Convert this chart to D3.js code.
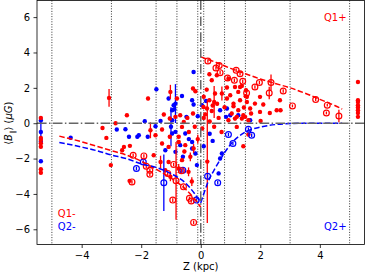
<!DOCTYPE html>
<html>
<head>
<meta charset="utf-8">
<script src="https://cdn.jsdelivr.net/npm/d3@7"></script>
<style>
	body { margin: 0; background: #fff; }
	svg { display: block; font-family: "DejaVu Sans", sans-serif; }
</style>
</head>
<body>
<script>
// tick labels and reference lines
var xTicks = [-4, -2, 0, 2, 4];
var yTicks = [-6, -4, -2, 0, 2, 4, 6];
var vLines = [-5, -3, -1.5, -0.8, -0.1, 0.1, 0.8, 1.5, 3, 5];

// points: [Z (kpc), <B> (uG), error]
var redFilled = [
	[-5.37, 0.3, 0.08], [-5.37, -0.83, 0.08], [-5.37, -0.95, 0.08], [-5.37, -1.14, 0.08], [-5.37, -1.33, 0.08],
	[-5.37, -2.6, 0.08], [-5.37, -2.8, 0.08],
	[-3.08, 1.43, 0.5], [-3.3, -0.27, 0.08], [-3.17, -0.83, 0.08], [-2.86, 0.0, 0.08], [-2.48, 0.45, 0.08],
	[-3.02, -2.37, 0.08], [-2.64, -1.53, 0.08], [-2.38, -1.28, 0.08], [-2.39, -3.26, 0.08], [-2.58, -1.34, 0.08],
	[-1.77, 1.4, 0.1], [-1.24, 0.49, 0.1], [-1.69, -0.4, 0.45], [-1.02, 1.77, 0.4], [-0.8, 1.4, 0.1],
	[-0.18, 1.81, 0.1], [-0.69, 0.45, 0.1], [-0.85, 0.36, 0.1], [-0.57, 0.07, 0.1], [0.21, 0.83, 0.1],
	[-1.04, 0.27, 0.1], [-1.3, -0.36, 0.1], [-1.04, -0.77, 0.1], [-0.63, -0.21, 0.1], [-0.26, 0.55, 0.1],
	[-1.3, -1.15, 0.1], [-1.08, -1.34, 0.1], [-0.74, -1.06, 0.1], [-0.52, -1.24, 0.1], [-0.24, -1.43, 0.25],
	[-0.63, -2.09, 0.1], [-0.35, -1.9, 0.25], [-0.41, -2.75, 0.25], [-1.08, -2.19, 0.1], [-1.19, -2.66, 0.1],
	[-1.02, -3.03, 0.25], [-0.74, -2.56, 0.25], [-1.52, -0.68, 0.1], [-1.58, -1.81, 0.1], [-1.35, -2.19, 0.35],
	[-0.74, -0.77, 0.1], [-0.4, -0.5, 0.1], [-0.1, -0.9, 0.25], [0.05, -0.3, 0.1], [0.22, -2.17, 3.47],
	[-0.2, -0.2, 0.1], [-0.45, 0.3, 0.1], [0.1, 0.3, 0.1], [-0.3, -3.3, 0.25], [-0.55, -1.6, 0.1],
	[-0.26, 1.96, 0.1], [0.29, 2.77, 0.1], [0.37, 2.43, 0.1], [0.54, 2.71, 0.1], [0.88, 2.02, 0.1],
	[0.71, 1.68, 0.4], [1.32, 2.05, 0.1], [0.29, 1.3, 0.1], [0.48, 1.68, 0.1], [0.09, 0.92, 0.1],
	[0.37, 0.69, 0.1], [1.1, 0.96, 0.1], [1.21, 0.36, 0.1], [1.43, 0.45, 0.1], [0.45, 1.2, 0.9],
	[0.6, 0.3, 0.1], [0.45, -0.2, 0.1], [0.7, -0.5, 0.1], [0.3, 0.1, 0.1], [0.15, 0.5, 0.1],
	[0.8, 0.9, 0.1], [0.55, 1.1, 0.1], [0.2, 1.9, 0.1], [0.1, 1.5, 0.1], [0.4, 1.0, 0.1],
	[0.93, 2.52, 0.1], [1.15, 2.05, 0.1], [1.38, 2.11, 0.1], [1.26, 1.77, 0.1], [0.99, 1.58, 0.1],
	[0.88, 1.4, 0.1], [1.32, 1.3, 0.1], [1.1, 1.11, 0.1], [1.55, 1.49, 0.1], [1.99, 1.49, 0.1],
	[2.1, 1.06, 0.1], [2.55, 0.73, 0.1], [1.99, 0.64, 0.1], [1.66, 0.83, 0.1], [1.26, 0.73, 0.1],
	[1.04, 0.55, 0.1], [1.49, 0.36, 0.1], [1.6, 0.17, 0.1], [1.15, 0.26, 0.1], [0.93, 0.17, 0.1],
	[1.21, -0.21, 0.1], [1.6, -0.64, 0.1], [1.55, 1.2, 0.1], [1.82, 1.11, 0.1], [2.66, 1.3, 0.1],
	[2.68, 0.73, 0.1], [2.01, 0.13, 0.1], [1.69, 0.55, 0.1], [1.38, 0.27, 0.1], [1.52, 1.86, 0.1],
	[1.51, 1.53, 0.1], [1.45, 0.89, 0.1], [2.32, 0.58, 0.1], [1.43, -1.3, 0.08],
	[5.28, 2.33, 0.08], [5.28, 1.3, 0.08], [5.28, 1.2, 0.08], [5.28, 1.02, 0.08], [5.28, 0.89, 0.08],
	[5.28, 0.73, 0.08], [5.28, 0.58, 0.08], [5.28, 0.36, 0.08]
];

var blueFilled = [
	[-5.37, 0.15, 0.08], [-5.37, -0.5, 0.9], [-5.37, -1.05, 0.15], [-5.37, -2.15, 0.08],
	[-4.37, -0.82, 0.08], [-2.82, -0.36, 0.08], [-1.49, 1.92, 0.1], [-1.88, 0.11, 0.1], [-2.53, -0.34, 0.1],
	[-2.13, -0.77, 0.1], [-1.78, -0.77, 0.1], [-0.24, 2.9, 0.1], [-1.08, 1.4, 0.1], [-0.63, 1.54, 0.1],
	[-0.29, 1.3, 0.1], [-0.24, 1.06, 0.1], [-0.91, 1.02, 0.1], [-0.89, 0.79, 0.1], [-0.48, 0.36, 0.1],
	[-0.96, 0.17, 0.1], [-0.85, 1.11, 1.1], [-0.96, 0.73, 0.1], [-1.35, 0.13, 0.1], [-1.52, -0.17, 0.1],
	[-0.85, -0.49, 0.1], [-0.52, -0.58, 0.1], [-1.19, -1.53, 0.1], [-0.85, -1.62, 0.1], [-0.29, -1.06, 0.1],
	[-0.13, -2.37, 0.1], [-0.18, -1.71, 0.1], [0.6, -2.84, 0.1], [0.71, -1.71, 0.1], [-0.69, -1.24, 0.1],
	[-2.41, -0.77, 0.1], [-2.08, -0.68, 0.1], [-0.96, -0.58, 0.1], [-0.29, -1.43, 0.1], [-1.0, -0.2, 1.1],
	[-0.1, 0.4, 0.1], [-0.4, -0.9, 0.1], [0.3, -0.6, 0.1], [0.1, -1.3, 0.1], [0.4, -1.0, 0.1],
	[-0.6, -1.9, 0.1], [0.65, -2.0, 0.1], [0.88, 0.83, 0.1], [1.26, 0.45, 0.1], [1.66, 0.17, 0.1],
	[0.99, 0.45, 0.1], [0.18, 1.26, 0.1], [0.04, 1.02, 0.1], [0.65, 0.73, 0.1], [0.85, 0.36, 0.1]
];

var redOpen = [
	[0.24, 3.52, 0.1], [0.62, 3.26, 0.1], [0.51, 3.12, 0.1], [0.65, 2.86, 0.1], [1.19, 2.99, 0.1],
	[0.9, 2.56, 0.1], [1.13, 2.43, 0.1], [1.41, 2.37, 0.1], [1.54, 1.71, 0.1], [1.32, 2.8, 0.1],
	[1.82, 2.05, 0.1], [1.97, 2.3, 0.1], [2.36, 2.3, 0.45], [2.3, 1.71, 0.35], [2.77, 1.82, 0.1],
	[3.08, 0.98, 0.08], [3.86, 1.34, 0.08], [4.25, 1.02, 0.08], [4.22, 0.58, 0.08], [4.64, 0.41, 0.35],
	[-2.27, -1.81, 0.1], [-2.31, -3.32, 0.1], [-1.91, -1.85, 0.1], [-1.83, -2.43, 0.1], [-1.71, -2.66, 0.1],
	[-1.71, -2.88, 0.1], [-0.91, -2.33, 0.1], [-0.65, -2.69, 0.1], [-0.94, -4.35, 0.1], [-0.38, -4.25, 0.1],
	[-0.32, -4.4, 0.1], [-0.24, -5.61, 0.1], [-1.11, -2.84, 0.1], [-0.83, -3.26, 2.2], [-0.58, -3.6, 0.1]
];

var blueOpen = [
	[-2.16, -2.56, 0.1], [-1.93, -2.19, 0.1], [-1.24, -3.37, 1.6], [-0.6, -2.66, 0.1], [-0.15, -4.35, 0.1],
	[0.23, -3.0, 0.1], [0.57, -3.37, 0.1], [1.08, -1.15, 0.1], [0.93, -0.64, 0.1], [1.6, -0.34, 0.1],
	[1.71, -0.68, 0.1]
];

// model curves: [Z, <B>]
var q1Plus = [[0.0, 3.75], [0.5, 3.45], [1.0, 3.1], [1.5, 2.8], [2.0, 2.5], [2.5, 2.25], [3.0, 2.0],
	[3.5, 1.7], [4.0, 1.35], [4.5, 1.0], [4.75, 0.8]];
var q1Minus = [[-4.75, -0.73], [-4.0, -1.05], [-3.5, -1.3], [-3.0, -1.55], [-2.5, -1.8], [-2.0, -2.15],
	[-1.5, -2.6], [-1.0, -3.1], [-0.5, -3.75], [-0.2, -4.3], [0.0, -4.75]];
var q2Minus = [[-4.75, -1.09], [-4.0, -1.35], [-3.5, -1.55], [-3.0, -1.8], [-2.5, -2.0], [-2.0, -2.3],
	[-1.5, -2.5], [-1.0, -2.85], [-0.5, -3.4], [-0.2, -4.0], [0.0, -4.5]];
var q2Plus = [[0.0, -4.5], [0.1, -4.0], [0.25, -3.3], [0.5, -2.5], [0.75, -1.8], [1.0, -1.2],
	[1.5, -0.5], [2.0, -0.22], [2.5, -0.08], [3.0, -0.02], [3.5, 0.0], [4.75, 0.0]];

var width = 365, height = 275;
var margin = { top: 0.5, right: 0.5, bottom: 30.5, left: 37 };

var svg = d3.select('body').append('svg')
	.attr('width', width)
	.attr('height', height);

var x = d3.scaleLinear()
	.domain([-5.5, 5.5])
	.range([margin.left, width - margin.right]);

var y = d3.scaleLinear()
	.domain([-6.86, 6.94])
	.range([height - margin.bottom, margin.top]);

var plot = svg.append('g');

// dotted boundaries
plot.selectAll('.vline').data(vLines).enter().append('line')
	.attr('x1', function(d) { return x(d); })
	.attr('x2', function(d) { return x(d); })
	.attr('y1', y.range()[1])
	.attr('y2', y.range()[0])
	.attr('stroke', '#000')
	.attr('stroke-width', 0.8)
	.attr('stroke-dasharray', '1,1.6');

function drawSeries(data, color, open) {
	var g = plot.append('g');
	g.selectAll('line').data(data).enter().append('line')
		.attr('x1', function(d) { return x(d[0]); })
		.attr('x2', function(d) { return x(d[0]); })
		.attr('y1', function(d) { return y(d[1] - d[2]); })
		.attr('y2', function(d) { return y(d[1] + d[2]); })
		.attr('stroke', color)
		.attr('stroke-width', 1.3);
	g.selectAll('circle').data(data).enter().append('circle')
		.attr('cx', function(d) { return x(d[0]); })
		.attr('cy', function(d) { return y(d[1]); })
		.attr('r', open ? 2.9 : 2.2)
		.attr('fill', open ? 'none' : color)
		.attr('stroke', open ? color : 'none')
		.attr('stroke-width', 1.2);
}

drawSeries(blueFilled, 'blue', false);
drawSeries(redFilled, 'red', false);
drawSeries(blueOpen, 'blue', true);
drawSeries(redOpen, 'red', true);

var line = d3.line()
	.x(function(d) { return x(d[0]); })
	.y(function(d) { return y(d[1]); })
	.curve(d3.curveMonotoneX);

[[q1Plus, 'red'], [q1Minus, 'red'], [q2Minus, 'blue'], [q2Plus, 'blue']].forEach(function(c) {
	plot.append('path')
		.datum(c[0])
		.attr('d', line)
		.attr('fill', 'none')
		.attr('stroke', c[1])
		.attr('stroke-width', 1.5)
		.attr('stroke-dasharray', '5.5,2.4');
});

// zero lines, dash-dot
plot.append('line')
	.attr('x1', x.range()[0]).attr('x2', x.range()[1])
	.attr('y1', y(0)).attr('y2', y(0))
	.attr('stroke', '#666').attr('stroke-width', 1.5)
	.attr('stroke-dasharray', '9.6,2.4,1.5,2.4');
plot.append('line')
	.attr('x1', x(0)).attr('x2', x(0))
	.attr('y1', y.range()[1]).attr('y2', y.range()[0])
	.attr('stroke', '#666').attr('stroke-width', 1.5)
	.attr('stroke-dasharray', '9.6,2.4,1.5,2.4');

// frame
svg.append('rect')
	.attr('x', x.range()[0])
	.attr('y', y.range()[1])
	.attr('width', x.range()[1] - x.range()[0])
	.attr('height', y.range()[0] - y.range()[1])
	.attr('fill', 'none')
	.attr('stroke', '#000')
	.attr('stroke-width', 0.8);

var xAxis = svg.append('g')
	.attr('transform', 'translate(0,' + y.range()[0] + ')')
	.call(d3.axisBottom(x).tickValues(xTicks).tickSize(3.5).tickPadding(3.5).tickSizeOuter(0));
var yAxis = svg.append('g')
	.attr('transform', 'translate(' + x.range()[0] + ',0)')
	.call(d3.axisLeft(y).tickValues(yTicks).tickSize(3.5).tickPadding(3.5).tickSizeOuter(0));

[xAxis, yAxis].forEach(function(a) {
	a.select('.domain').remove();
	a.selectAll('.tick line').attr('stroke', '#000').attr('stroke-width', 0.8);
	a.selectAll('.tick text')
		.attr('fill', '#000')
		.style('font-size', '10px')
		.style('font-family', '"DejaVu Sans", sans-serif');
});

// axis titles
svg.append('text')
	.attr('x', (x.range()[0] + x.range()[1]) / 2)
	.attr('y', 270)
	.attr('text-anchor', 'middle')
	.style('font-size', '10px')
	.text('Z (kpc)');

var ylab = svg.append('text')
	.attr('transform', 'translate(12,' + y(0) + ') rotate(-90)')
	.attr('text-anchor', 'middle')
	.style('font-size', '10px');
ylab.append('tspan').text('⟨');
ylab.append('tspan').style('font-style', 'italic').text('B');
ylab.append('tspan').attr('dy', 2.5).style('font-size', '7px').text('∥');
ylab.append('tspan').attr('dy', -2.5).text('⟩ (');
ylab.append('tspan').style('font-style', 'italic').text('μG');
ylab.append('tspan').text(')');

// quadrant labels
var labels = [
	{ t: 'Q1+', c: 'red', x: 4.9, y: 5.8, a: 'end' },
	{ t: 'Q1-', c: 'red', x: -4.8, y: -5.3, a: 'start' },
	{ t: 'Q2-', c: 'blue', x: -4.8, y: -6.05, a: 'start' },
	{ t: 'Q2+', c: 'blue', x: 4.9, y: -6.05, a: 'end' }
];
svg.selectAll('.qlab').data(labels).enter().append('text')
	.attr('x', function(d) { return x(d.x); })
	.attr('y', function(d) { return y(d.y); })
	.attr('text-anchor', function(d) { return d.a; })
	.attr('fill', function(d) { return d.c; })
	.style('font-size', '10px')
	.text(function(d) { return d.t; });
</script>
</body>
</html>
